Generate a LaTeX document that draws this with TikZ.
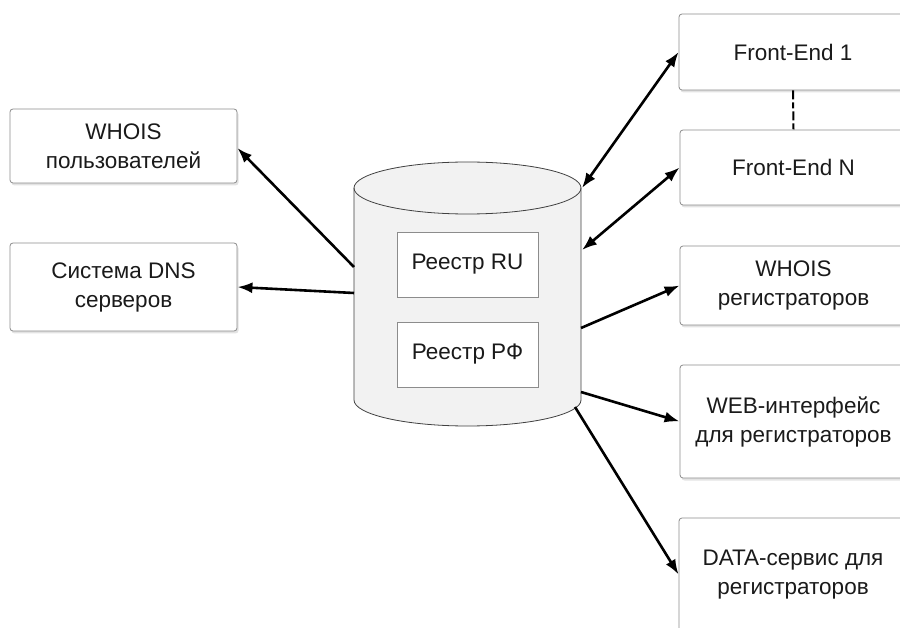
\documentclass[tikz,border=0pt]{standalone}
\usepackage{fontspec}
\setmainfont{Liberation Sans}
\usetikzlibrary{arrows.meta,shadows}
\definecolor{txt}{HTML}{1A1A1A}
\definecolor{bord}{HTML}{8C8C8C}
\definecolor{cylfill}{HTML}{F2F2F2}
\begin{document}
\begin{tikzpicture}[x=1pt,y=-1pt,
  every node/.style={font=\fontsize{22.5}{29}\selectfont, text=txt},
  box/.style={draw=bord, line width=0.8pt, fill=white, rounded corners=3pt, align=center, inner sep=0pt,
    drop shadow={opacity=0.22, shadow xshift=1.5pt, shadow yshift=-2.5pt}},
  inbox/.style={draw=bord, line width=0.8pt, fill=white, align=center, inner sep=0pt},
  conn/.style={line width=2.6pt, draw=black},
  tip/.style={-{Latex[length=15pt,width=11pt]}},
  dtip/.style={{Latex[length=15pt,width=11pt]}-{Latex[length=15pt,width=11pt]}}
]
\clip (0,0) rectangle (900,628);
\fill[white] (0,0) rectangle (900,628);

% cylinder
\path[draw=black!75, line width=0.8pt, fill=cylfill]
  (354,188) -- (354,400) arc[start angle=180, end angle=360, x radius=113.5pt, y radius=26pt]
  -- (581,188) arc[start angle=0, end angle=180, x radius=113.5pt, y radius=26pt] -- cycle;
\draw[black!75, line width=0.8pt] (354,188) arc[start angle=180, end angle=360, x radius=113.5pt, y radius=26pt];

\node[inbox, minimum width=141pt, minimum height=65pt] (ru) at (467.5,264.5) {Реестр RU};
\node[inbox, minimum width=141pt, minimum height=65pt] (rf) at (467.5,354.5) {Реестр РФ};

% left boxes
\node[box, minimum width=227pt, minimum height=74pt] (wu) at (123.5,146) {WHOIS\\пользователей};
\node[box, minimum width=227pt, minimum height=88pt] (dns) at (123.5,287) {Система DNS\\серверов};

% right boxes
\node[box, minimum width=228pt, minimum height=76pt] (fe1) at (793,52) {Front-End 1};
\node[box, minimum width=227pt, minimum height=75pt] (fen) at (793.5,167.5) {Front-End N};
\node[box, minimum width=227pt, minimum height=79pt] (wr) at (793.5,285.5) {WHOIS\\регистраторов};
\node[box, minimum width=227pt, minimum height=113pt] (web) at (793.5,421.5) {WEB-интерфейс\\для регистраторов};
\node[box, minimum width=228pt, minimum height=113pt] (data) at (793,574.5) {DATA-сервис для\\регистраторов};

% cylinder connection points
\coordinate (c1) at (582,188);
\coordinate (c2) at (582,250);
\coordinate (c3) at (581,328);
\coordinate (c4) at (581,392);
\coordinate (c5) at (575,407);
\coordinate (c6) at (354,267);
\coordinate (c7) at (354,293);

\draw[conn, dtip] (c1) -- (fe1.west);
\draw[conn, dtip] (c2) -- (fen.west);
\draw[conn, tip] (c3) -- (wr.west);
\draw[conn, tip] (c4) -- (web.west);
\draw[conn, tip] (c5) -- (data.west);
\draw[conn, tip] (c6) -- ([yshift=-2pt]wu.east);
\draw[conn, tip] (c7) -- (dns.east);

\draw[line width=2pt, dash pattern=on 9pt off 3pt on 6pt off 3pt] (fe1.south) -- (fen.north);
\end{tikzpicture}
\end{document}
